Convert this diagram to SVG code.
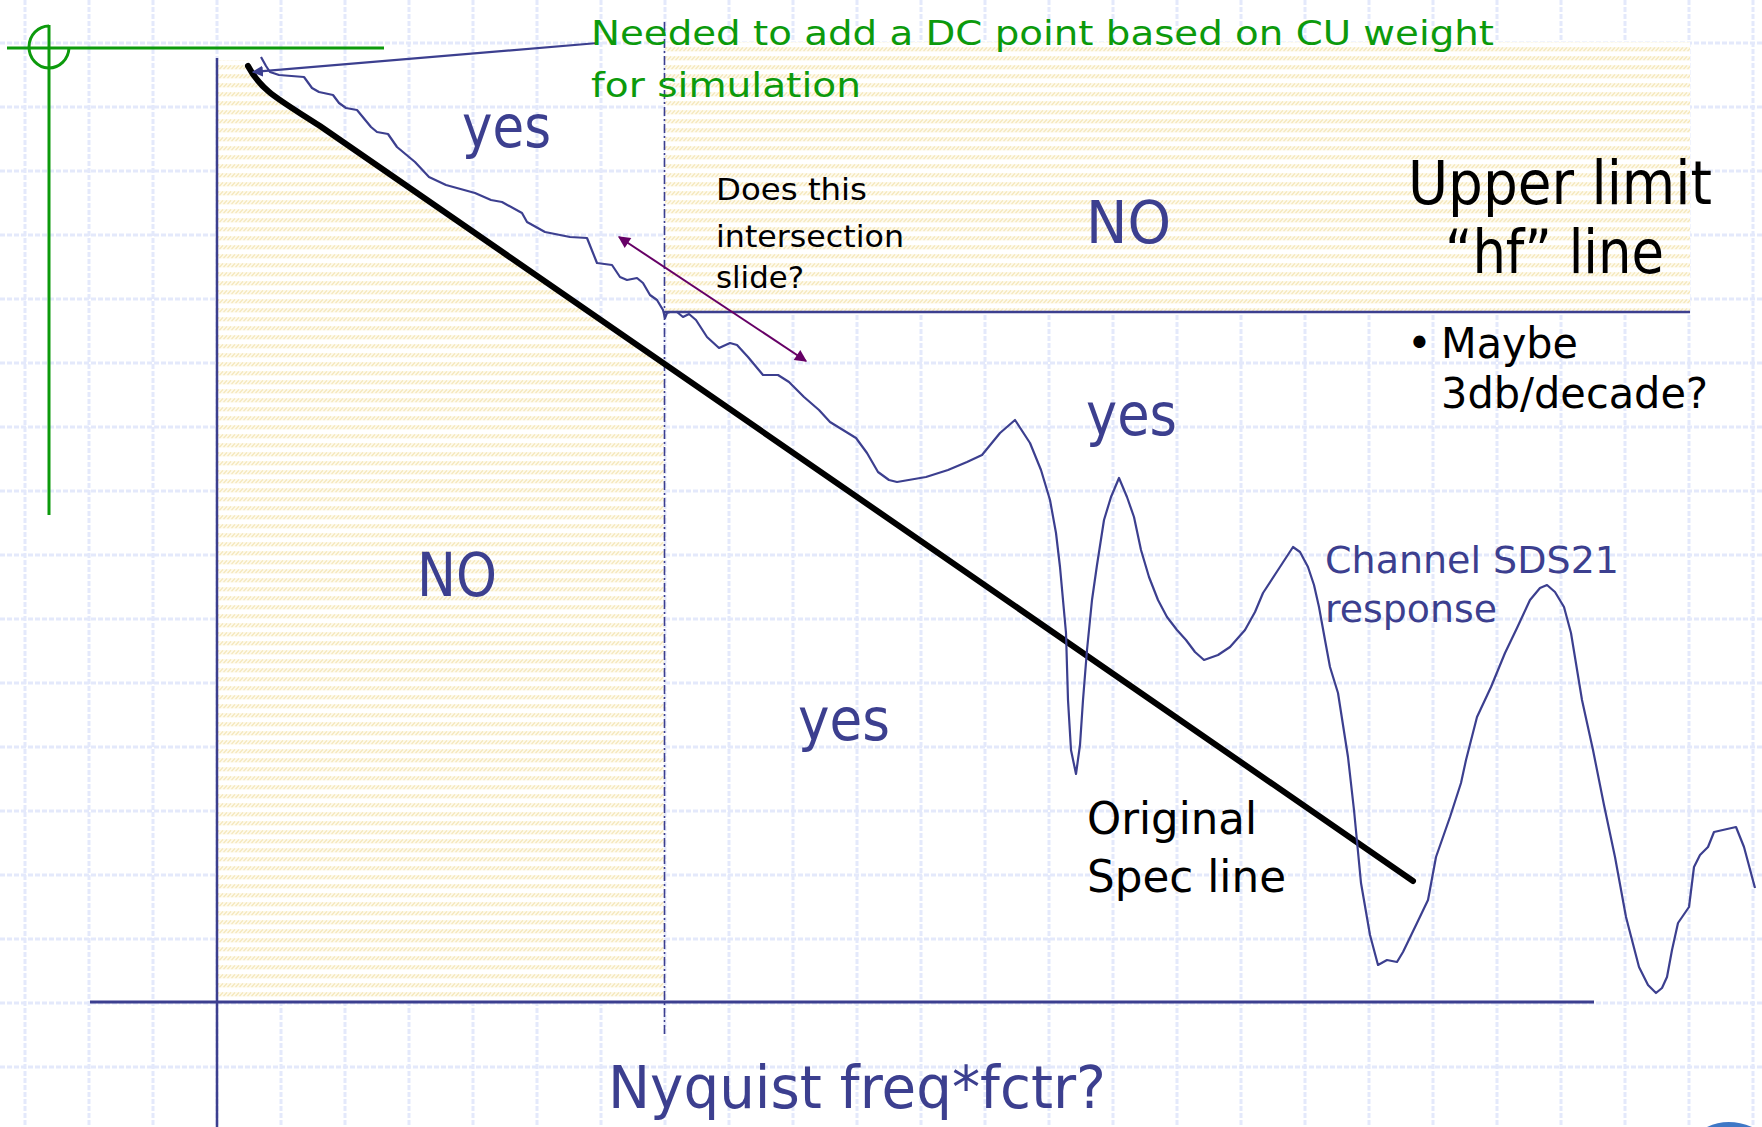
<svg xmlns="http://www.w3.org/2000/svg" width="1762" height="1127" viewBox="0 0 1762 1127">
<defs>
<pattern id="hatch" patternUnits="userSpaceOnUse" width="4" height="9">
<rect width="4" height="9" fill="#ffffff"/>
<rect y="2" width="4" height="4.5" fill="#fefaec"/>
<path d="M-0.5,6.2 L3,2.3 M3.5,6.2 L7,2.3" stroke="#f4e6b8" stroke-width="1.1" fill="none"/>
</pattern>
<marker id="ah-blue" viewBox="0 0 10 10" refX="9" refY="5" markerWidth="5" markerHeight="5" orient="auto" markerUnits="strokeWidth">
<path d="M0,0 L10,5 L0,10 Z" fill="#3c3f8f"/>
</marker>
<marker id="ah-purple" viewBox="0 0 10 10" refX="9" refY="5" markerWidth="7" markerHeight="6" orient="auto-start-reverse" markerUnits="strokeWidth">
<path d="M0,0 L10,5 L0,10 Z" fill="#660066"/>
</marker>
</defs>
<style>
.grid line{stroke:#e4e9fb;stroke-width:3;stroke-dasharray:5 2}
.axis{stroke:#3c3f8f;fill:none}
.lbl{font-family:"DejaVu Sans","Liberation Sans",sans-serif}
.blue{fill:#3c3f8f}
.black{fill:#000000}
.green{fill:#0c9a0c}
</style>
<rect width="1762" height="1127" fill="#ffffff"/>
<g id="grid" class="grid">
<line x1="25" y1="0" x2="25" y2="1127"/><line x1="89" y1="0" x2="89" y2="1127"/><line x1="153" y1="0" x2="153" y2="1127"/><line x1="217" y1="0" x2="217" y2="1127"/><line x1="281" y1="0" x2="281" y2="1127"/><line x1="345" y1="0" x2="345" y2="1127"/><line x1="409" y1="0" x2="409" y2="1127"/><line x1="473" y1="0" x2="473" y2="1127"/><line x1="537" y1="0" x2="537" y2="1127"/><line x1="601" y1="0" x2="601" y2="1127"/><line x1="665" y1="0" x2="665" y2="1127"/><line x1="729" y1="0" x2="729" y2="1127"/><line x1="793" y1="0" x2="793" y2="1127"/><line x1="857" y1="0" x2="857" y2="1127"/><line x1="921" y1="0" x2="921" y2="1127"/><line x1="985" y1="0" x2="985" y2="1127"/><line x1="1049" y1="0" x2="1049" y2="1127"/><line x1="1113" y1="0" x2="1113" y2="1127"/><line x1="1177" y1="0" x2="1177" y2="1127"/><line x1="1241" y1="0" x2="1241" y2="1127"/><line x1="1305" y1="0" x2="1305" y2="1127"/><line x1="1369" y1="0" x2="1369" y2="1127"/><line x1="1433" y1="0" x2="1433" y2="1127"/><line x1="1497" y1="0" x2="1497" y2="1127"/><line x1="1561" y1="0" x2="1561" y2="1127"/><line x1="1625" y1="0" x2="1625" y2="1127"/><line x1="1689" y1="0" x2="1689" y2="1127"/><line x1="1753" y1="0" x2="1753" y2="1127"/>
<line x1="0" y1="43" x2="1762" y2="43"/><line x1="0" y1="107" x2="1762" y2="107"/><line x1="0" y1="171" x2="1762" y2="171"/><line x1="0" y1="235" x2="1762" y2="235"/><line x1="0" y1="299" x2="1762" y2="299"/><line x1="0" y1="363" x2="1762" y2="363"/><line x1="0" y1="427" x2="1762" y2="427"/><line x1="0" y1="491" x2="1762" y2="491"/><line x1="0" y1="555" x2="1762" y2="555"/><line x1="0" y1="619" x2="1762" y2="619"/><line x1="0" y1="683" x2="1762" y2="683"/><line x1="0" y1="747" x2="1762" y2="747"/><line x1="0" y1="811" x2="1762" y2="811"/><line x1="0" y1="875" x2="1762" y2="875"/><line x1="0" y1="939" x2="1762" y2="939"/><line x1="0" y1="1003" x2="1762" y2="1003"/><line x1="0" y1="1067" x2="1762" y2="1067"/>
</g>
<g id="regions">
<path id="region-no-left" d="M217,60 L248,60 L248,66 C262,92 280,100 320,126 L664,364 L664,1002 L217,1002 Z" fill="url(#hatch)"/>
<rect id="region-no-top" x="665" y="42" width="1025" height="270" fill="url(#hatch)"/>
</g>
<g id="crosshair" stroke="#0c9a0c" stroke-width="3" fill="none">
<line x1="7" y1="48" x2="384" y2="48"/>
<line x1="49" y1="25" x2="49" y2="515"/>
<path d="M49,26 A20,21 0 1 0 69,48"/>
</g>
<g id="axes">
<line class="axis" x1="217" y1="58" x2="217" y2="1127" stroke-width="2.5"/>
<line class="axis" x1="90" y1="1002" x2="1594" y2="1002" stroke-width="3"/>
<line id="nyquist-line" class="axis" x1="664.5" y1="22" x2="664.5" y2="1035" stroke-width="1.6" stroke-dasharray="9 3 2 3"/>
<line id="hf-line" class="axis" x1="665" y1="312" x2="1690" y2="312" stroke-width="2.5"/>
</g>
<g id="curves">
<path id="spec-line" d="M248,66 C262,92 280,100 320,126 L1413,881" stroke="#000000" stroke-width="6" fill="none" stroke-linecap="round"/>
<polyline id="sds21" fill="none" stroke="#3c3f8f" stroke-width="2.2" stroke-linejoin="round" points="261,57 266,66 270,72 279,75 304,77 312,88 319,92 333,95 339,103 346,108 357,110 371,127 377,132 388,134 397,147 415,162 429,177 446,185 475,193 491,200 502,202 522,213 527,222 545,232 570,237 587,238 597,263 612,265 620,277 627,280 637,278 643,283 650,295 657,300 663,310 665,318 667,313 670,312 677,312 683,317 689,314 696,320 707,337 719,348 730,343 737,345 748,357 763,375 778,375 789,382 804,397 819,410 830,422 856,438 867,453 878,472 889,480 897,482 926,477 948,470 967,462 982,455 1000,433 1015,420 1030,443 1041,470 1050,500 1056,533 1060,567 1063,600 1066,633 1068,700 1071,750 1076,774 1080,745 1083,700 1087,650 1092,600 1097,565 1104,520 1111,497 1119,478 1127,497 1134,517 1141,550 1149,577 1158,600 1167,617 1177,630 1186,640 1195,652 1204,660 1218,655 1230,647 1245,630 1255,612 1263,593 1278,570 1293,547 1300,552 1308,567 1314,585 1319,607 1325,640 1330,667 1338,693 1348,757 1354,810 1361,883 1370,935 1378,965 1387,960 1397,962 1403,952 1417,923 1428,900 1436,857 1450,817 1461,783 1466,760 1477,717 1491,687 1505,653 1517,628 1530,600 1540,588 1547,585 1555,592 1564,607 1571,633 1582,700 1593,750 1604,805 1615,857 1626,917 1639,967 1648,985 1656,993 1662,988 1667,977 1672,950 1678,923 1689,907 1694,867 1700,855 1708,847 1714,832 1736,827 1744,847 1755,888"/>
</g>
<g id="connectors">
<line id="dc-arrow" x1="598" y1="43" x2="253" y2="72" stroke="#3c3f8f" stroke-width="2.2" marker-end="url(#ah-blue)"/>
<line id="slide-arrow" x1="619" y1="237" x2="806" y2="361" stroke="#660066" stroke-width="2" marker-start="url(#ah-purple)" marker-end="url(#ah-purple)"/>
</g>
<g id="labels" class="lbl">
<text class="green" x="591" y="45" font-size="34" textLength="903" lengthAdjust="spacingAndGlyphs">Needed to add a DC point based on CU weight</text>
<text class="green" x="591" y="97" font-size="34" textLength="270" lengthAdjust="spacingAndGlyphs">for simulation</text>
<text class="blue" x="462" y="147" font-size="58" textLength="89" lengthAdjust="spacingAndGlyphs">yes</text>
<text class="blue" x="1086" y="243" font-size="59" textLength="85" lengthAdjust="spacingAndGlyphs">NO</text>
<text class="black" x="716" y="200" font-size="31" textLength="151" lengthAdjust="spacingAndGlyphs">Does this</text>
<text class="black" x="716" y="247" font-size="31" textLength="188" lengthAdjust="spacingAndGlyphs">intersection</text>
<text class="black" x="716" y="288" font-size="31" textLength="88" lengthAdjust="spacingAndGlyphs">slide?</text>
<text class="black" x="1408" y="204" font-size="60" textLength="304" lengthAdjust="spacingAndGlyphs">Upper limit</text>
<text class="black" x="1445" y="273" font-size="60" textLength="219" lengthAdjust="spacingAndGlyphs">“hf” line</text>
<text class="black" x="1407" y="358" font-size="42">•</text>
<text class="black" x="1441" y="358" font-size="42" textLength="137" lengthAdjust="spacingAndGlyphs">Maybe</text>
<text class="black" x="1441" y="408" font-size="42" textLength="267" lengthAdjust="spacingAndGlyphs">3db/decade?</text>
<text class="blue" x="1086" y="435" font-size="58" textLength="91" lengthAdjust="spacingAndGlyphs">yes</text>
<text class="blue" x="417" y="596" font-size="60" textLength="80" lengthAdjust="spacingAndGlyphs">NO</text>
<text class="blue" x="1325" y="573" font-size="38" textLength="294" lengthAdjust="spacingAndGlyphs">Channel SDS21</text>
<text class="blue" x="1325" y="622" font-size="38" textLength="172" lengthAdjust="spacingAndGlyphs">response</text>
<text class="blue" x="798" y="740" font-size="58" textLength="92" lengthAdjust="spacingAndGlyphs">yes</text>
<text class="black" x="1087" y="834" font-size="44" textLength="170" lengthAdjust="spacingAndGlyphs">Original</text>
<text class="black" x="1087" y="892" font-size="44" textLength="199" lengthAdjust="spacingAndGlyphs">Spec line</text>
<text class="blue" x="608" y="1108" font-size="59" textLength="498" lengthAdjust="spacingAndGlyphs">Nyquist freq*fctr?</text>
</g>
<path id="corner-mark" d="M1707,1127 Q1728,1117 1752,1127 Z" fill="#3f78c6"/>
</svg>
